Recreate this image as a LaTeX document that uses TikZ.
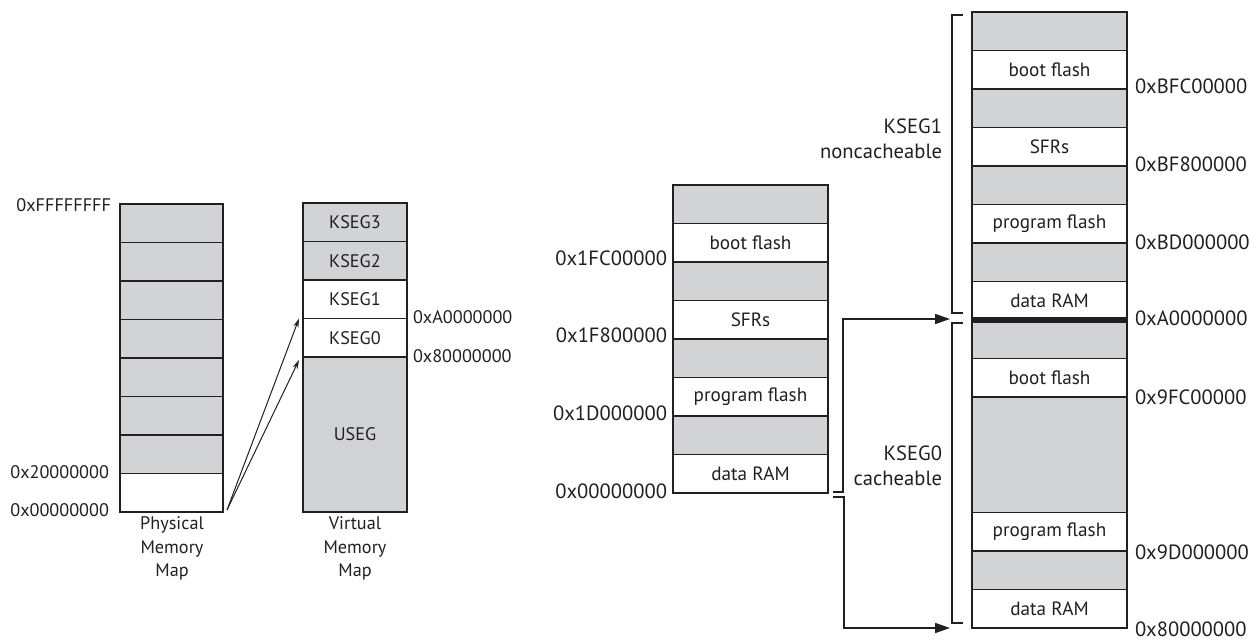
\documentclass[tikz,border=0pt]{standalone}
\usepackage{fontspec}
\setmainfont{PT Sans}
\usetikzlibrary{arrows.meta,calc}
\definecolor{memgray}{HTML}{D1D3D4}
\definecolor{ink}{HTML}{231F20}
\begin{document}
\begin{tikzpicture}[x=0.5pt,y=-0.5pt,
  cell/.style={draw=ink, line width=0.85pt, inner sep=0pt, outer sep=0pt, anchor=north west,
    text=ink, minimum width=#1},
  cell/.default=77.5pt,
  shaded/.style={fill=memgray},
  blank/.style={fill=white},
  smallfont/.style={font=\fontsize{9.1}{11.75}\selectfont},
  boxfont/.style={font=\fontsize{9.6}{11}\selectfont},
  addrfont/.style={font=\fontsize{10.3}{12.5}\selectfont},
  lbl/.style={text=ink, inner sep=0pt, outer sep=0pt},
  frame/.style={draw=ink, line width=1.25pt},
  thinarrow/.style={draw=ink, line width=0.5pt, -{Stealth[length=4.5pt,width=2.6pt]}},
  bigarrow/.style={draw=ink, line width=0.85pt, -{Triangle[length=7.5pt,width=5pt]}},
  brack/.style={draw=ink, line width=0.85pt},
]
\useasboundingbox (0,0) rectangle (1255,639);

% ---------------- Physical memory map ----------------
\foreach \i in {1,...,7}{
  \node[cell=51.5pt, shaded, minimum height=19.25pt] (p\i) at (120,{204+(\i-1)*38.5}) {};
}
\node[cell=51.5pt, blank, minimum height=19.25pt] (p8) at (120,473.5) {};
\draw[frame] (p1.north west) rectangle (p8.south east);
\node[lbl, smallfont, anchor=east] (pa1) at (111,205) {0xFFFFFFFF};
\node[lbl, smallfont, anchor=east] (pa2) at (109,472) {0x20000000};
\node[lbl, smallfont, anchor=east] (pa3) at (109,510) {0x00000000};
\node[lbl, smallfont, align=center, anchor=north] (ptitle) at (172,517) {Physical\\Memory\\Map};

% ---------------- Virtual memory map ----------------
\node[cell=52pt, shaded, smallfont, minimum height=19.25pt] (v3) at (303,203) {KSEG3};
\node[cell=52pt, shaded, smallfont, minimum height=19.25pt] (v2) at (303,241.5) {KSEG2};
\node[cell=52pt, blank, smallfont, minimum height=19.25pt] (v1) at (303,280) {KSEG1};
\node[cell=52pt, blank, smallfont, minimum height=19.25pt] (v0) at (303,318.5) {KSEG0};
\node[cell=52pt, shaded, smallfont, minimum height=77.5pt] (vu) at (303,357) {USEG};
\draw[frame] (v3.north west) rectangle (vu.south east);
\node[lbl, smallfont, anchor=west] (va1) at (413,317) {0xA0000000};
\node[lbl, smallfont, anchor=west] (va2) at (413,356) {0x80000000};
\node[lbl, smallfont, align=center, anchor=north] (vtitle) at (355,517) {Virtual\\Memory\\Map};

\draw[thinarrow] ($(p8.south east)+(4,-2)$) -- ($(v1.south west)+(-4,0)$);
\draw[thinarrow] ($(p8.south east)+(4,-2)$) -- ($(v0.south west)+(-4,3)$);

% ---------------- Middle physical map ----------------
\node[cell, shaded, minimum height=19.25pt] (m1) at (673,185) {};
\node[cell, blank, boxfont, minimum height=19.25pt] (m2) at (673,223.5) {boot flash};
\node[cell, shaded, minimum height=19.25pt] (m3) at (673,262) {};
\node[cell, blank, boxfont, minimum height=19.25pt] (m4) at (673,300.5) {SFRs};
\node[cell, shaded, minimum height=19.25pt] (m5) at (673,339) {};
\node[cell, blank, boxfont, minimum height=19.25pt] (m6) at (673,377.5) {program flash};
\node[cell, shaded, minimum height=19.25pt] (m7) at (673,416) {};
\node[cell, blank, boxfont, minimum height=19.25pt] (m8) at (673,454.5) {data RAM};
\draw[frame] (m1.north west) rectangle (m8.south east);
\node[lbl, addrfont, anchor=east] (ma1) at (667,258) {0x1FC00000};
\node[lbl, addrfont, anchor=east] (ma2) at (667,335) {0x1F800000};
\node[lbl, addrfont, anchor=east] (ma3) at (667,413) {0x1D000000};
\node[lbl, addrfont, anchor=east] (ma4) at (667,491) {0x00000000};

% ---------------- Right virtual map ----------------
\node[cell, shaded, minimum height=19.25pt] (r1) at (972,12) {};
\node[cell, blank, boxfont, minimum height=19.25pt] (r2) at (972,50.5) {boot flash};
\node[cell, shaded, minimum height=19.25pt] (r3) at (972,89) {};
\node[cell, blank, boxfont, minimum height=19.25pt] (r4) at (972,127.5) {SFRs};
\node[cell, shaded, minimum height=19.25pt] (r5) at (972,166) {};
\node[cell, blank, boxfont, minimum height=19.25pt] (r6) at (972,204.5) {program flash};
\node[cell, shaded, minimum height=19.25pt] (r7) at (972,243) {};
\node[cell, blank, boxfont, minimum height=19.25pt] (r8) at (972,281.5) {data RAM};
\node[cell, shaded, minimum height=19.25pt] (s1) at (972,320) {};
\node[cell, blank, boxfont, minimum height=19.25pt] (s2) at (972,358.5) {boot flash};
\node[cell, shaded, minimum height=57.75pt] (s3) at (972,397) {};
\node[cell, blank, boxfont, minimum height=19.25pt] (s4) at (972,512.5) {program flash};
\node[cell, shaded, minimum height=19.25pt] (s5) at (972,551) {};
\node[cell, blank, boxfont, minimum height=19.25pt] (s6) at (972,589.5) {data RAM};
\draw[frame] (r1.north west) rectangle (s6.south east);
\draw[draw=ink, line width=3pt] (r8.south west) -- (r8.south east);

\node[lbl, addrfont, anchor=west] (ra1) at (1135,86) {0xBFC00000};
\node[lbl, addrfont, anchor=west] (ra2) at (1135,164) {0xBF800000};
\node[lbl, addrfont, anchor=west] (ra3) at (1135,242) {0xBD000000};
\node[lbl, addrfont, anchor=west] (ra4) at (1135,318) {0xA0000000};
\node[lbl, addrfont, anchor=west] (ra5) at (1135,397) {0x9FC00000};
\node[lbl, addrfont, anchor=west] (ra6) at (1135,552) {0x9D000000};
\node[lbl, addrfont, anchor=west] (ra7) at (1135,629) {0x80000000};

% brackets
\draw[brack] (963,15) -- (952,15) -- (952,313) -- (963,313);
\draw[brack] (963,323) -- (952,323) -- (952,623) -- (963,623);
\node[lbl, addrfont, align=right, anchor=east] (k1) at (942,139) {KSEG1\\noncacheable};
\node[lbl, addrfont, align=right, anchor=east] (k0) at (942,466) {KSEG0\\cacheable};

% connectors middle -> right
\coordinate (up) at ($(r8.south west)+(-22,-1)$);
\coordinate (dn) at ($(s6.south west)+(-22,0)$);
\draw[bigarrow] ($(m8.south east)+(5,-1)$) -- ++(10,0) |- (up);
\draw[bigarrow] ($(m8.south east)+(5,4)$) -- ++(11,0) |- (dn);
\end{tikzpicture}
\end{document}
